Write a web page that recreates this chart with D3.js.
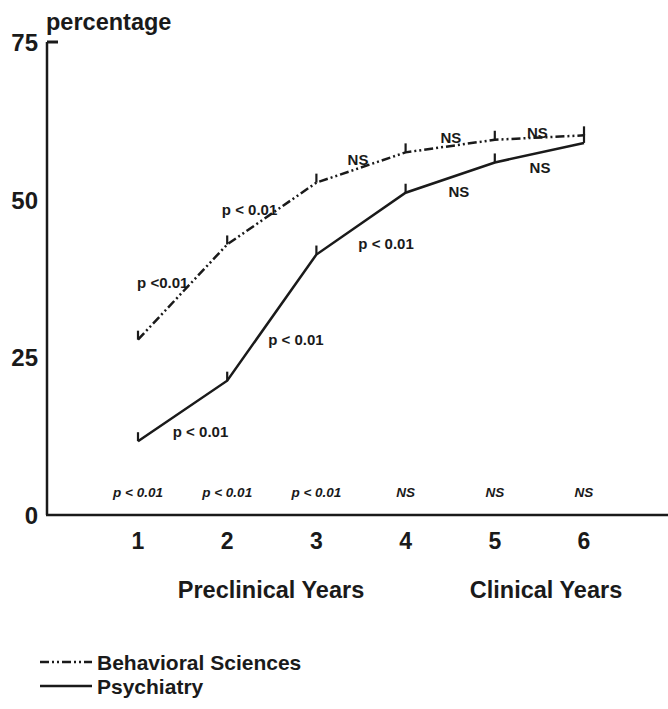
<!DOCTYPE html>
<html><head><meta charset="utf-8">
<script src="https://cdn.jsdelivr.net/npm/d3@7"></script>
<style>body{margin:0;background:#fff}svg{display:block}text{font-family:"Liberation Sans",Arial,sans-serif;fill:#1a1a1a}</style>
</head><body><svg id="c" width="668" height="709"></svg>
<script>
const years = [1, 2, 3, 4, 5, 6];
const behavioral = [27.8, 42.9, 52.7, 57.5, 59.5, 60.2];
const psychiatry = [11.7, 21.3, 41.3, 51.1, 55.9, 59.0];
const yTicks = [0, 25, 50, 75];
const bottomLabels = ["p < 0.01", "p < 0.01", "p < 0.01", "NS", "NS", "NS"];
const behavioralNotes = ["p <0.01", "p < 0.01", "NS", "NS", "NS"];
const behavioralNoteX = [0.99, 1.94, 3.35, 4.39, 5.36];
const behavioralNoteY = [36.0, 47.6, 55.5, 59.0, 59.8];
const psychiatryNotes = ["p < 0.01", "p < 0.01", "p < 0.01", "NS", "NS"];
const psychiatryNoteX = [1.39, 2.46, 3.47, 4.48, 5.39];
const psychiatryNoteY = [12.4, 27.0, 42.2, 50.4, 54.2];
const seriesNames = ["Behavioral Sciences", "Psychiatry"];
const groupLabels = ["Preclinical Years", "Clinical Years"];

const svg = d3.select("#c");
const x = d3.scaleLinear().domain([1, 6]).range([138, 584]);
const y = d3.scaleLinear().domain([0, 75]).range([515, 42]);
const ink = "#1a1a1a";
const dashBS = "9,3,2,3,2,3";

// axes
svg.append("line").attr("x1", 47).attr("x2", 47).attr("y1", y(75)).attr("y2", y(0)).attr("stroke", ink).attr("stroke-width", 2.5);
svg.append("line").attr("x1", 47).attr("x2", 58).attr("y1", y(75)).attr("y2", y(75)).attr("stroke", ink).attr("stroke-width", 3);
svg.append("line").attr("x1", 46).attr("x2", 668).attr("y1", y(0)).attr("y2", y(0)).attr("stroke", ink).attr("stroke-width", 2.5);

svg.selectAll(".yt").data(yTicks).enter().append("text")
  .attr("x", 38).attr("y", d => y(d) + 9).attr("text-anchor", "end")
  .attr("font-size", 24).attr("font-weight", "bold").text(d => d);
svg.append("text").attr("x", 46).attr("y", 30).attr("font-size", 23.5).attr("font-weight", "bold").text("percentage");

svg.selectAll(".xt").data(years).enter().append("text")
  .attr("x", d => x(d)).attr("y", 549).attr("text-anchor", "middle")
  .attr("font-size", 23).attr("font-weight", "bold").text(d => d);

svg.append("text").attr("x", 271).attr("y", 598).attr("text-anchor", "middle").attr("font-size", 23.5).attr("font-weight", "bold").text(groupLabels[0]);
svg.append("text").attr("x", 546).attr("y", 598).attr("text-anchor", "middle").attr("font-size", 23.5).attr("font-weight", "bold").text(groupLabels[1]);

// bottom significance labels
svg.selectAll(".bl").data(bottomLabels).enter().append("text")
  .attr("x", (d, i) => x(years[i])).attr("y", y(2.85)).attr("text-anchor", "middle")
  .attr("font-size", 13.5).attr("font-weight", "bold").attr("font-style", "italic").text(d => d);

// lines
const line = d3.line().x(d => x(d[0])).y(d => y(d[1]));
const bsData = years.map((v, i) => [v, behavioral[i]]);
const psData = years.map((v, i) => [v, psychiatry[i]]);
svg.append("path").attr("d", line(bsData)).attr("fill", "none").attr("stroke", ink).attr("stroke-width", 2.5).attr("stroke-dasharray", dashBS);
svg.append("path").attr("d", line(psData)).attr("fill", "none").attr("stroke", ink).attr("stroke-width", 2.5);

// point ticks
[bsData, psData].forEach(ds => {
  svg.selectAll(null).data(ds).enter().append("line")
    .attr("x1", d => x(d[0])).attr("x2", d => x(d[0]))
    .attr("y1", d => y(d[1])).attr("y2", d => y(d[1]) - 9)
    .attr("stroke", ink).attr("stroke-width", 2.2);
});

// annotations
function notes(txt, xs, ys) {
  svg.selectAll(null).data(txt).enter().append("text")
    .attr("x", (d, i) => x(xs[i])).attr("y", (d, i) => y(ys[i]))
    .attr("font-size", 15).attr("font-weight", "bold").text(d => d);
}
notes(behavioralNotes, behavioralNoteX, behavioralNoteY);
notes(psychiatryNotes, psychiatryNoteX, psychiatryNoteY);

// legend
svg.append("line").attr("x1", 40).attr("x2", 92).attr("y1", 662).attr("y2", 662).attr("stroke", ink).attr("stroke-width", 2.5).attr("stroke-dasharray", dashBS);
svg.append("line").attr("x1", 40).attr("x2", 92).attr("y1", 686).attr("y2", 686).attr("stroke", ink).attr("stroke-width", 2.5);
svg.append("text").attr("x", 97).attr("y", 670).attr("font-size", 21).attr("font-weight", "bold").text(seriesNames[0]);
svg.append("text").attr("x", 97).attr("y", 694).attr("font-size", 21).attr("font-weight", "bold").text(seriesNames[1]);
</script></body></html>
